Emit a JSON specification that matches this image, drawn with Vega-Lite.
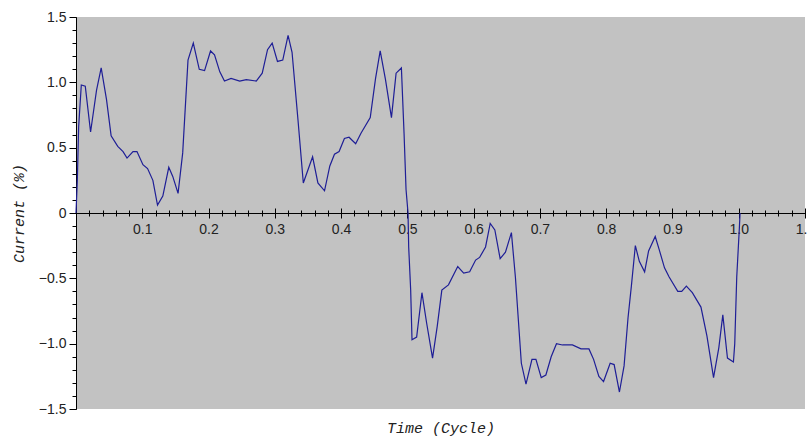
{
  "$schema": "https://vega.github.io/schema/vega-lite/v6.json",
  "width": 729,
  "height": 392,
  "autosize": "none",
  "padding": {"left": 76, "top": 17, "right": 2, "bottom": 29},
  "background": "#ffffff",
  "config": {
    "view": {"fill": "#c2c2c2", "stroke": null},
    "axis": {
      "grid": false,
      "labelFont": "Liberation Sans",
      "labelFontSize": 14,
      "labelColor": "#222222",
      "domainColor": "#000000",
      "tickColor": "#000000",
      "domainWidth": 1,
      "tickWidth": 1,
      "titleFont": "Liberation Mono",
      "titleFontStyle": "italic",
      "titleFontWeight": "normal",
      "titleFontSize": 15,
      "titleColor": "#222222"
    }
  },
  "data": {
    "values": [
      {"t": 0.0, "i": 0.0}, {"t": 0.002, "i": 0.25}, {"t": 0.004, "i": 0.66}, {"t": 0.008, "i": 0.98},
      {"t": 0.014, "i": 0.97}, {"t": 0.022, "i": 0.62}, {"t": 0.031, "i": 0.94}, {"t": 0.038, "i": 1.11},
      {"t": 0.046, "i": 0.87}, {"t": 0.053, "i": 0.59}, {"t": 0.063, "i": 0.51}, {"t": 0.071, "i": 0.47},
      {"t": 0.077, "i": 0.42}, {"t": 0.086, "i": 0.47}, {"t": 0.092, "i": 0.47}, {"t": 0.101, "i": 0.37},
      {"t": 0.108, "i": 0.34}, {"t": 0.116, "i": 0.25}, {"t": 0.123, "i": 0.06}, {"t": 0.131, "i": 0.13},
      {"t": 0.14, "i": 0.35}, {"t": 0.146, "i": 0.28}, {"t": 0.154, "i": 0.15}, {"t": 0.161, "i": 0.46},
      {"t": 0.169, "i": 1.17}, {"t": 0.177, "i": 1.3}, {"t": 0.186, "i": 1.1}, {"t": 0.194, "i": 1.09},
      {"t": 0.203, "i": 1.24}, {"t": 0.209, "i": 1.21}, {"t": 0.217, "i": 1.08}, {"t": 0.224, "i": 1.01},
      {"t": 0.234, "i": 1.03}, {"t": 0.247, "i": 1.01}, {"t": 0.257, "i": 1.02}, {"t": 0.272, "i": 1.01},
      {"t": 0.281, "i": 1.07}, {"t": 0.289, "i": 1.25}, {"t": 0.296, "i": 1.3}, {"t": 0.304, "i": 1.16},
      {"t": 0.312, "i": 1.17}, {"t": 0.32, "i": 1.36}, {"t": 0.326, "i": 1.23}, {"t": 0.335, "i": 0.71},
      {"t": 0.343, "i": 0.23}, {"t": 0.357, "i": 0.43}, {"t": 0.365, "i": 0.23}, {"t": 0.375, "i": 0.17},
      {"t": 0.383, "i": 0.36}, {"t": 0.39, "i": 0.45}, {"t": 0.397, "i": 0.47}, {"t": 0.405, "i": 0.57},
      {"t": 0.412, "i": 0.58}, {"t": 0.422, "i": 0.53}, {"t": 0.43, "i": 0.61}, {"t": 0.444, "i": 0.73},
      {"t": 0.452, "i": 1.03}, {"t": 0.459, "i": 1.24}, {"t": 0.467, "i": 1.02}, {"t": 0.476, "i": 0.73},
      {"t": 0.483, "i": 1.07}, {"t": 0.491, "i": 1.11}, {"t": 0.495, "i": 0.61}, {"t": 0.498, "i": 0.18},
      {"t": 0.501, "i": 0.0}, {"t": 0.502, "i": -0.26}, {"t": 0.505, "i": -0.59}, {"t": 0.507, "i": -0.97},
      {"t": 0.514, "i": -0.95}, {"t": 0.522, "i": -0.61}, {"t": 0.529, "i": -0.84}, {"t": 0.538, "i": -1.11},
      {"t": 0.545, "i": -0.87}, {"t": 0.552, "i": -0.59}, {"t": 0.562, "i": -0.55}, {"t": 0.576, "i": -0.41},
      {"t": 0.585, "i": -0.46}, {"t": 0.594, "i": -0.45}, {"t": 0.603, "i": -0.36}, {"t": 0.609, "i": -0.34},
      {"t": 0.618, "i": -0.26}, {"t": 0.625, "i": -0.08}, {"t": 0.632, "i": -0.13}, {"t": 0.64, "i": -0.35},
      {"t": 0.648, "i": -0.3}, {"t": 0.657, "i": -0.15}, {"t": 0.663, "i": -0.49}, {"t": 0.672, "i": -1.15},
      {"t": 0.679, "i": -1.31}, {"t": 0.688, "i": -1.12}, {"t": 0.694, "i": -1.12}, {"t": 0.702, "i": -1.26},
      {"t": 0.709, "i": -1.24}, {"t": 0.717, "i": -1.1}, {"t": 0.725, "i": -1.0}, {"t": 0.734, "i": -1.01},
      {"t": 0.749, "i": -1.01}, {"t": 0.762, "i": -1.04}, {"t": 0.774, "i": -1.04}, {"t": 0.781, "i": -1.12},
      {"t": 0.789, "i": -1.25}, {"t": 0.796, "i": -1.29}, {"t": 0.806, "i": -1.15}, {"t": 0.812, "i": -1.16},
      {"t": 0.82, "i": -1.37}, {"t": 0.827, "i": -1.17}, {"t": 0.833, "i": -0.8}, {"t": 0.838, "i": -0.56},
      {"t": 0.844, "i": -0.25}, {"t": 0.85, "i": -0.37}, {"t": 0.858, "i": -0.45}, {"t": 0.864, "i": -0.29},
      {"t": 0.874, "i": -0.18}, {"t": 0.88, "i": -0.28}, {"t": 0.888, "i": -0.42}, {"t": 0.895, "i": -0.49},
      {"t": 0.908, "i": -0.6}, {"t": 0.914, "i": -0.6}, {"t": 0.921, "i": -0.56}, {"t": 0.93, "i": -0.61},
      {"t": 0.943, "i": -0.72}, {"t": 0.952, "i": -0.94}, {"t": 0.962, "i": -1.26}, {"t": 0.97, "i": -1.03},
      {"t": 0.976, "i": -0.78}, {"t": 0.983, "i": -1.11}, {"t": 0.992, "i": -1.14}, {"t": 0.994, "i": -1.0},
      {"t": 0.997, "i": -0.49}, {"t": 1.001, "i": -0.11}, {"t": 1.002, "i": 0.0}
    ]
  },
  "layer": [
    {
      "mark": {"type": "line", "strokeOpacity": 0},
      "encoding": {
        "x": {"field": "t", "type": "quantitative", "scale": {"domain": [0, 1.1], "nice": false, "zero": false},
          "axis": {"orient": "bottom", "offset": -201, "values": [0.1, 0.2, 0.3, 0.4, 0.5, 0.6, 0.7, 0.8, 0.9, 1.0, 1.1], "tickSize": 10, "labels": false, "domain": false, "title": null}},
        "y": {"field": "i", "type": "quantitative", "scale": {"domain": [-1.5, 1.5], "nice": false, "zero": false},
          "axis": {"orient": "left", "values": [-1.5, -1.4, -1.3, -1.2, -1.1, -1.0, -0.9, -0.8, -0.7, -0.6, -0.5, -0.4, -0.3, -0.2, -0.1, 0, 0.1, 0.2, 0.3, 0.4, 0.5, 0.6, 0.7, 0.8, 0.9, 1.0, 1.1, 1.2, 1.3, 1.4, 1.5], "tickSize": 4, "labels": false, "domain": false, "title": null}}
      }
    },
    {
      "mark": {"type": "line", "strokeOpacity": 0},
      "encoding": {
        "x": {"field": "t", "type": "quantitative",
          "axis": {"orient": "bottom", "offset": -199, "values": [0.02, 0.04, 0.06, 0.08, 0.12, 0.14, 0.16, 0.18, 0.22, 0.24, 0.26, 0.28, 0.32, 0.34, 0.36, 0.38, 0.42, 0.44, 0.46, 0.48, 0.52, 0.54, 0.56, 0.58, 0.62, 0.64, 0.66, 0.68, 0.72, 0.74, 0.76, 0.78, 0.82, 0.84, 0.86, 0.88, 0.92, 0.94, 0.96, 0.98, 1.02, 1.04, 1.06, 1.08], "tickSize": 6, "labels": false, "domain": false, "title": null}},
        "y": {"field": "i", "type": "quantitative", "axis": null}
      }
    },
    {
      "mark": {"type": "line", "color": "#1e1e96", "strokeWidth": 1.2},
      "encoding": {
        "x": {"field": "t", "type": "quantitative",
          "axis": {"orient": "bottom", "offset": -196, "values": [0.1, 0.2, 0.3, 0.4, 0.5, 0.6, 0.7, 0.8, 0.9, 1.0, 1.1], "format": ".1f", "ticks": false, "domain": true, "labelPadding": 9, "labelFlush": false, "labelOverlap": false,
            "title": "Time (Cycle)", "titleY": 214, "titleBaseline": "middle"}},
        "y": {"field": "i", "type": "quantitative",
          "axis": {"orient": "left", "values": [-1.5, -1.0, -0.5, 0, 0.5, 1.0, 1.5], "labelExpr": "datum.value == 0 ? '0' : format(datum.value, '.1f')", "tickSize": 7, "labelPadding": 3, "labelFlush": false, "labelOverlap": false, "domain": true,
            "title": "Current (%)", "titleX": -58, "titleY": 196, "titleBaseline": "middle", "titleAlign": "center"}}
      }
    }
  ],
  "resolve": {"axis": {"x": "independent", "y": "independent"}}
}
